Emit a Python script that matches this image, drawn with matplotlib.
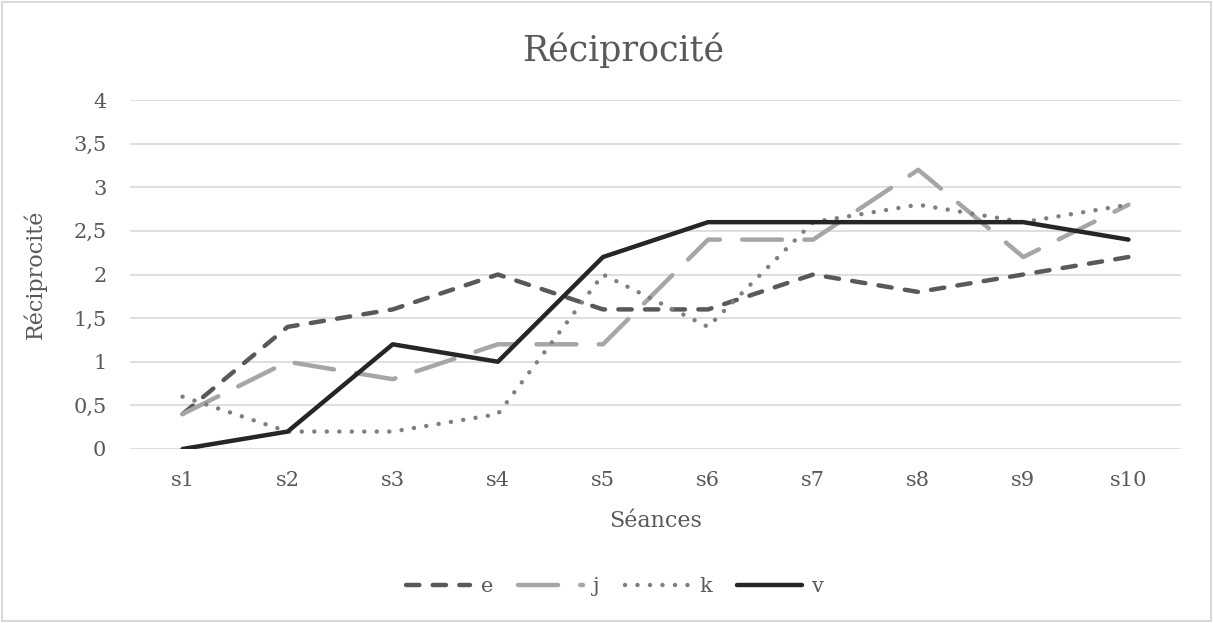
import matplotlib
matplotlib.use("Agg")
import matplotlib.pyplot as plt
from matplotlib.patches import Rectangle
from matplotlib.ticker import FuncFormatter

categories = ["s1", "s2", "s3", "s4", "s5", "s6", "s7", "s8", "s9", "s10"]
e = [0.4, 1.4, 1.6, 2.0, 1.6, 1.6, 2.0, 1.8, 2.0, 2.2]
j = [0.4, 1.0, 0.8, 1.2, 1.2, 2.4, 2.4, 3.2, 2.2, 2.8]
k = [0.6, 0.2, 0.2, 0.4, 2.0, 1.4, 2.6, 2.8, 2.6, 2.8]
v = [0.0, 0.2, 1.2, 1.0, 2.2, 2.6, 2.6, 2.6, 2.6, 2.4]
yticks = [0, 0.5, 1, 1.5, 2, 2.5, 3, 3.5, 4]

plt.rcParams['font.family'] = ['DejaVu Serif']
txt = '#595959'

fig = plt.figure(figsize=(12.13, 6.23), dpi=100)
ax = fig.add_axes([130/1213, 1-449/623, 1051/1213, 349/623])

x = list(range(len(categories)))
lw = 3.2
ax.plot(x, e, color='#595959', lw=lw, dashes=(3, 3), dash_capstyle='round', solid_joinstyle='round', label='e', zorder=3)
ax.plot(x, j, color='#A6A6A6', lw=lw, dashes=(9, 5), dash_capstyle='round', label='j', zorder=3)
ax.plot(x, k, color='#7F7F7F', lw=lw, dashes=(0.01, 2.8), dash_capstyle='round', label='k', zorder=3)
ax.plot(x, v, color='#262626', lw=lw, solid_capstyle='round', solid_joinstyle='round', label='v', zorder=4)

ax.set_xlim(-0.5, len(categories) - 0.5)
ax.set_ylim(0, 4)
ax.set_xticks(x)
ax.set_xticklabels(categories)
ax.set_yticks(yticks)
ax.yaxis.set_major_formatter(FuncFormatter(lambda val, p: ('%g' % val).replace('.', ',')))
ax.grid(axis='y', color='#D9D9D9', lw=1.2)
ax.set_axisbelow(True)
for s in ax.spines.values():
    s.set_visible(False)
ax.tick_params(axis='both', length=0, labelsize=15, colors=txt)
ax.tick_params(axis='y', pad=17)
ax.tick_params(axis='x', pad=16)

ax.set_xlabel('Séances', fontsize=16, color=txt, labelpad=14)
ax.set_ylabel('Réciprocité', fontsize=16, color=txt, labelpad=19)
fig.text(0.5135, 1-50/623, 'Réciprocité', ha='center', va='center', fontsize=25, color=txt)

leg = fig.legend(loc='center', bbox_to_anchor=(0.507, 1-587/623), ncol=4, frameon=False,
                 fontsize=15, handlelength=3.1, columnspacing=1.2, handletextpad=0.5)
for t in leg.get_texts():
    t.set_color(txt)

fig.patches.append(Rectangle((2/1213, 2/623), 1209/1213, 619/623, transform=fig.transFigure,
                             fill=False, edgecolor='#D9D9D9', lw=1.5))
fig.savefig('out.png', dpi=100, facecolor='white')
